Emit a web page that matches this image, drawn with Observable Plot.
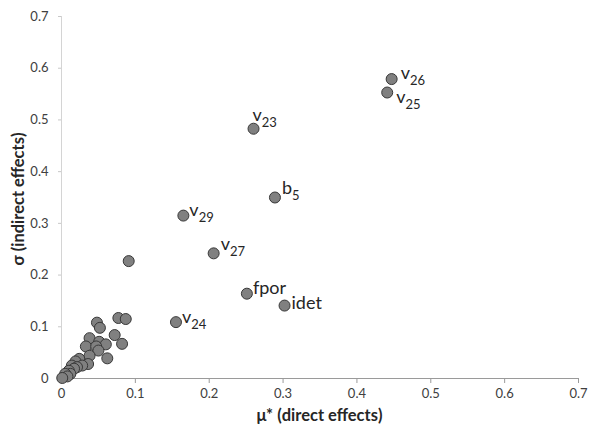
<!DOCTYPE html>
<html><head><meta charset="utf-8">
<script src="https://cdn.jsdelivr.net/npm/d3@7"></script>
<script src="https://cdn.jsdelivr.net/npm/@observablehq/plot@0.6"></script>
<style>
body{margin:0;background:#fff;}
#chart svg{font-family:Lato,"Open Sans",sans-serif;}
</style>
</head><body><div id="chart"></div>
<script>
// Labelled factors
const labeledNames = ["v_26","v_25","v_23","b_5","v_29","v_27","fpor","idet","v_24"];
const labeledMu    = [0.447,0.441,0.260,0.289,0.165,0.206,0.251,0.302,0.155];
const labeledSigma = [0.579,0.553,0.483,0.350,0.315,0.242,0.164,0.141,0.109];

// Unlabelled factors (cluster near the origin)
const clusterMu    = [0.091,0.077,0.087,0.048,0.052,0.038,0.072,0.051,0.060,0.082,0.033,0.047,0.050,0.038,0.062,0.024,0.036,0.019,0.014,0.028,0.021,0.017,0.010,0.012,0.005,0.008,0.001];
const clusterSigma = [0.227,0.117,0.115,0.108,0.098,0.078,0.084,0.071,0.066,0.067,0.062,0.062,0.054,0.044,0.039,0.038,0.028,0.033,0.025,0.025,0.022,0.019,0.015,0.009,0.009,0.004,0.001];

const xTicks = [0,0.1,0.2,0.3,0.4,0.5,0.6,0.7];
const yTicks = [0,0.1,0.2,0.3,0.4,0.5,0.6,0.7];
const xTitle = "μ* (direct effects)";
const yTitle = "σ (indirect effects)";

const labeled = labeledNames.map((n,i)=>({name:n, mu:labeledMu[i], sigma:labeledSigma[i]}));
const cluster = clusterMu.map((m,i)=>({mu:m, sigma:clusterSigma[i]}));
const allPts = [...cluster, ...labeled];

const fmt = d => d === 0 ? "0" : d3.format(".1f")(d);
const labelStyle = {x:"mu", y:"sigma", text:"name", textAnchor:"start", fontSize:18, fill:"#262626"};
const grp = names => labeled.filter(d => names.includes(d.name));

const plot = Plot.plot({
  width:590, height:428,
  marginLeft:61, marginRight:12, marginTop:16, marginBottom:50,
  style:{fontSize:"13px", color:"#404040", background:"#fff"},
  x:{domain:[0,0.7]},
  y:{domain:[0,0.7]},
  marks:[
    Plot.ruleX([0], {stroke:"#d4d4d4"}),
    Plot.axisY({ticks:yTicks, tickFormat:fmt, tickSize:3, tickPadding:10, stroke:"#c8c8c8", label:null, fontSize:13}),
    Plot.axisX({ticks:xTicks, tickFormat:fmt, tickSize:5, tickPadding:5, label:null, stroke:"#9a9a9a", fontSize:13}),
    Plot.ruleY([0], {stroke:"#9a9a9a"}),
    Plot.dot(allPts, {x:"mu", y:"sigma", r:5.5, fill:"#808080", stroke:"#383838", strokeWidth:1}),
    Plot.text(grp(["v_26"]), {...labelStyle, dx:9, dy:-6}),
    Plot.text(grp(["b_5","v_27"]), {...labelStyle, dx:7, dy:-9}),
    Plot.text(grp(["v_29","v_24","fpor"]), {...labelStyle, dx:6, dy:-5}),
    Plot.text(grp(["idet"]), {...labelStyle, dx:7, dy:-2}),
    Plot.text(grp(["v_25"]), {...labelStyle, dx:9, dy:5}),
    Plot.text(grp(["v_23"]), {...labelStyle, dx:-1, dy:-13})
  ]
});

const svg = d3.select(plot);
// subscripts
svg.selectAll("text").each(function(){
  const t = d3.select(this);
  const s = this.textContent;
  if (s.includes("_")) {
    const [base, sub] = s.split("_");
    t.text(null);
    t.append("tspan").text(base);
    t.append("tspan").attr("dy","0.45em").attr("font-size","13px").text(sub);
  }
});
// axis titles
svg.append("text").attr("x", (61+578)/2).attr("y", 421).attr("text-anchor","middle")
  .attr("font-size","16.5px").attr("font-weight","bold").attr("fill","#262626").text(xTitle);
svg.append("text").attr("transform","translate(24,199) rotate(-90)").attr("text-anchor","middle")
  .attr("font-size","16.5px").attr("font-weight","bold").attr("fill","#262626").text(yTitle);

document.getElementById("chart").appendChild(plot);
</script>
</body></html>
